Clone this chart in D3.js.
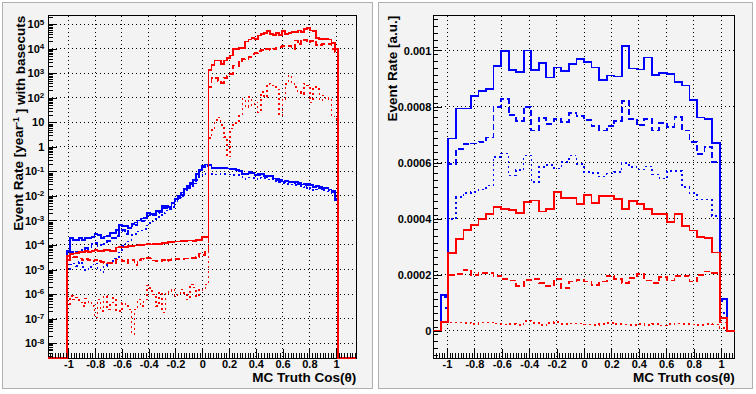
<!DOCTYPE html>
<html>
<head>
<meta charset="utf-8">
<script src="https://cdn.jsdelivr.net/npm/d3@7"></script>
<style>
  body { margin: 0; background: #ffffff; }
  svg text { font-family: "Liberation Sans", Arial, sans-serif; font-weight: bold; fill: #000; }
</style>
</head>
<body>
<svg id="chart" width="756" height="394"></svg>
<script>
// ---- data: left pad, log10 of rate, 100 bins on [-1.15,1.15], non-empty bins 6..93
const leftBlueSolid = [-4.24,-3.72,-3.79,-3.79,-3.72,-3.78,-3.72,-3.72,-3.67,-3.54,-3.60,-3.70,-3.65,-3.62,-3.52,-3.50,-3.40,-3.20,-3.22,-3.22,-3.33,-3.15,-3.08,-3.00,-2.92,-2.90,-2.70,-2.72,-2.72,-2.62,-2.60,-2.42,-2.42,-2.44,-2.30,-2.14,-1.98,-1.86,-1.72,-1.60,-1.45,-1.35,-1.10,-0.95,-0.78,-0.72,
  -0.74,-0.86,-0.84,-0.86,-0.85,-0.87,-0.88,-0.90,-0.90,-0.94,-0.97,-1.10,-1.09,-1.02,-1.06,-1.14,-1.11,-1.12,-1.19,-1.18,-1.19,-1.29,-1.32,-1.36,-1.41,-1.39,-1.42,-1.43,-1.43,-1.48,-1.53,-1.51,-1.52,-1.56,-1.62,-1.59,-1.65,-1.68,-1.69,-1.74,-1.80,-2.14];
const leftBlueDashed = [-4.45,-4.30,-4.35,-4.28,-4.20,-4.30,-4.12,-4.15,-3.95,-3.92,-4.05,-3.98,-3.97,-3.85,-3.72,-3.70,-3.62,-3.42,-3.40,-3.55,-3.30,-3.22,-3.18,-3.05,-3.02,-3.00,-2.80,-2.78,-2.80,-2.70,-2.65,-2.50,-2.48,-2.55,-2.38,-2.22,-2.05,-1.95,-1.80,-1.66,-1.50,-1.40,-1.18,-1.00,-0.84,-0.78,
  -0.76,-0.88,-0.86,-0.87,-0.87,-0.88,-0.90,-0.91,-0.92,-0.96,-0.99,-1.10,-1.12,-1.05,-1.08,-1.16,-1.14,-1.15,-1.21,-1.22,-1.20,-1.31,-1.34,-1.39,-1.43,-1.41,-1.45,-1.44,-1.46,-1.50,-1.55,-1.55,-1.54,-1.59,-1.64,-1.62,-1.68,-1.72,-1.70,-1.77,-1.83,-2.16];
const leftBlueDotted = [-5.00,-4.80,-4.75,-4.85,-4.70,-4.90,-5.05,-4.90,-4.80,-4.75,-4.95,-5.10,-4.85,-4.75,-4.65,-4.55,-4.50,-4.30,-4.05,-3.85,-3.80,-3.60,-3.55,-3.45,-3.40,-3.35,-3.20,-3.10,-3.05,-2.95,-2.85,-2.70,-2.60,-2.50,-2.45,-2.25,-2.10,-2.00,-1.85,-1.70,-1.62,-1.50,-1.35,-1.22,-1.10,-1.02,
  -1.05,-1.10,-1.12,-1.10,-1.12,-1.11,-1.12,-1.13,-1.14,-1.15,-1.17,-1.22,-1.30,-1.25,-1.26,-1.30,-1.24,-1.28,-1.27,-1.32,-1.30,-1.42,-1.45,-1.46,-1.50,-1.52,-1.50,-1.53,-1.55,-1.58,-1.62,-1.70,-1.64,-1.72,-1.78,-1.74,-1.70,-1.76,-1.82,-1.86,-1.95,-2.16];
const leftRedSolid = [-4.45,-4.38,-4.35,-4.32,-4.30,-4.28,-4.26,-4.27,-4.24,-4.22,-4.23,-4.24,-4.22,-4.22,-4.24,-4.24,-4.10,-4.08,-4.10,-4.09,-4.05,-4.03,-4.02,-4.00,-4.00,-3.98,-3.97,-3.98,-3.96,-3.97,-3.95,-3.93,-3.92,-3.89,-3.88,-3.86,-3.86,-3.84,-3.84,-3.82,-3.82,-3.83,-3.80,-3.80,-3.66,-3.66,
  3.12,3.35,3.52,3.52,3.39,3.52,3.62,3.73,4.00,4.00,4.03,4.03,4.30,4.38,4.44,4.41,4.54,4.61,4.65,4.71,4.61,4.57,4.65,4.57,4.71,4.61,4.65,4.68,4.68,4.75,4.68,4.82,4.84,4.75,4.71,4.44,4.41,4.41,4.41,4.38,4.24,4.00];
const leftRedDashed = [-4.60,-4.48,-4.50,-4.50,-4.55,-4.62,-4.58,-4.62,-4.66,-4.60,-4.66,-4.68,-4.72,-4.73,-4.73,-4.74,-4.59,-4.60,-4.66,-4.72,-4.59,-4.60,-4.82,-4.60,-4.55,-4.56,-4.53,-4.55,-4.63,-4.64,-4.66,-4.62,-4.67,-4.60,-4.58,-4.58,-4.57,-4.56,-4.55,-4.55,-4.53,-4.54,-4.50,-4.35,-4.40,-4.22,
  2.44,2.80,2.82,2.70,2.62,2.82,2.90,2.98,3.32,3.30,3.45,3.59,3.60,3.65,3.78,3.82,3.90,3.95,4.00,3.98,3.96,3.98,4.05,4.07,4.12,4.12,4.10,4.00,4.34,4.18,4.38,4.36,4.26,4.32,4.34,4.14,4.16,4.20,4.20,4.20,4.00,3.86];
const leftRedDotted = [-6.50,-6.08,-6.22,-6.15,-6.35,-6.49,-6.19,-6.35,-6.49,-6.96,-6.22,-6.69,-6.08,-6.62,-6.35,-6.15,-6.69,-6.69,-6.35,-6.49,-6.62,-7.64,-6.62,-6.22,-6.49,-6.22,-5.65,-5.88,-6.01,-6.49,-5.95,-6.76,-5.95,-5.88,-5.81,-6.08,-5.95,-5.81,-5.95,-6.22,-5.61,-5.74,-6.10,-5.81,-5.85,-5.61,
  0.36,0.68,1.10,1.20,0.90,0.40,-0.40,0.75,0.90,1.00,1.28,1.95,1.62,2.03,1.69,1.82,1.41,2.23,2.03,2.57,2.50,2.44,2.35,1.28,1.96,2.57,2.91,2.64,2.44,2.23,2.16,2.57,2.50,1.82,2.44,2.37,1.90,2.10,1.96,2.00,1.28,1.14];

// ---- data: right pad, 40 bins on [-1.1,1.1]
const rightBlueSolid = [0,0.000127,0.000686,0.000793,0.000793,0.000838,0.000855,0.000864,0.000945,0.000998,0.000929,0.000923,0.001,0.000929,0.000954,0.000904,0.000939,0.000927,0.000951,0.000971,0.000958,0.000939,0.000894,0.000911,0.000907,0.001015,0.000936,0.000932,0.000975,0.000914,0.000919,0.000915,0.000888,0.000875,0.000823,0.000761,0.000756,0.000671,0.000113,0];
const rightBlueDashed = [0,0.000122,0.000596,0.00065,0.000666,0.000668,0.000674,0.00069,0.000799,0.000827,0.000769,0.000749,0.000799,0.000715,0.00076,0.000739,0.000755,0.000745,0.000777,0.000766,0.000751,0.00073,0.000715,0.00073,0.000748,0.000819,0.000757,0.000733,0.000757,0.000715,0.000742,0.000727,0.000763,0.000715,0.000674,0.000632,0.000656,0.000602,0.000108,0];
const rightBlueDotted = [0,0.000082,0.0004,0.000477,0.000492,0.000495,0.000504,0.000519,0.00062,0.000632,0.000555,0.000573,0.000626,0.000531,0.000585,0.000591,0.000579,0.000602,0.000626,0.000596,0.000567,0.000563,0.000551,0.000561,0.000567,0.000599,0.000585,0.000575,0.000587,0.000558,0.000543,0.00057,0.00057,0.000513,0.000492,0.000468,0.000468,0.00041,0.000064,0];
const rightRedSolid = [0,0.000033,0.000277,0.000327,0.000361,0.000379,0.000399,0.000417,0.000442,0.000436,0.00043,0.00042,0.00046,0.000465,0.000426,0.000434,0.000495,0.000474,0.000474,0.000452,0.000484,0.000456,0.000482,0.000482,0.00047,0.000436,0.000462,0.000454,0.000434,0.000418,0.000418,0.000388,0.000417,0.000375,0.000358,0.000334,0.00033,0.00028,0.000046,0];
const rightRedDashed = [0,0.000033,0.0002,0.000204,0.000218,0.0002,0.000206,0.000208,0.000197,0.000185,0.00018,0.000161,0.000182,0.000185,0.00017,0.00016,0.000185,0.000152,0.000176,0.000182,0.000176,0.000164,0.000176,0.000197,0.000185,0.000172,0.000188,0.000203,0.00018,0.000172,0.000192,0.00018,0.000197,0.000197,0.000176,0.0002,0.000212,0.000208,0.00003,0];
const rightRedDotted = [0,0.00003,0.00003,0.00003,0.000029,0.000025,0.00003,0.000031,0.000026,0.000023,0.000024,0.000022,0.000036,0.000028,0.000021,0.000029,0.000032,0.000025,0.000027,0.000026,0.000023,0.000022,0.000024,0.000029,0.000025,0.000023,0.000022,0.000025,0.000021,0.000025,0.00002,0.000024,0.000026,0.000024,0.000023,0.000022,0.000024,0.000023,0.00001,0];

const xTickValues = [-1,-0.8,-0.6,-0.4,-0.2,0,0.2,0.4,0.6,0.8,1];
const xTickLabels = ["-1","-0.8","-0.6","-0.4","-0.2","0","0.2","0.4","0.6","0.8","1"];
const leftDecades = [-8,-7,-6,-5,-4,-3,-2,-1,0,1,2,3,4,5];
const rightYTicks = [0,0.0002,0.0004,0.0006,0.0008,0.001];
const rightYLabels = ["0","0.0002","0.0004","0.0006","0.0008","0.001"];

const svg = d3.select("#chart");

// pads
function pad(x0, x1) {
  svg.append("rect").attr("x", x0).attr("y", 2.5).attr("width", x1 - x0).attr("height", 386)
    .attr("fill", "#f3f3f3").attr("stroke", "#b0b0b0").attr("stroke-width", 1);
}
pad(2.5, 372.5);
pad(378.5, 752.5);

const styles = [
  { color: "#0000ff", dash: null, width: 1.8 },
  { color: "#0000ff", dash: "6,3", width: 1.8 },
  { color: "#0000ff", dash: "2,3", width: 1.5 },
  { color: "#ff0000", dash: null, width: 1.8 },
  { color: "#ff0000", dash: "6,3", width: 1.8 },
  { color: "#ff0000", dash: "2,3", width: 1.5 }
];

// snap to pixel centres so the thin lines stay crisp
const px = v => Math.round(v - 0.5) + 0.5;

function panel(cfg) {
  const { x, y, yZero, lo, w, series, id } = cfg;
  const [fx0, fx1] = x.range();
  const [fy1, fy0] = y.range();
  const g = svg.append("g");

  g.append("rect").attr("x", fx0).attr("y", fy0).attr("width", fx1 - fx0).attr("height", fy1 - fy0)
    .attr("fill", "#f3f3f3");

  // grid
  g.append("g").selectAll("line").data(xTickValues).join("line")
    .attr("x1", d => px(x(d))).attr("x2", d => px(x(d))).attr("y1", fy0).attr("y2", fy1)
    .attr("stroke", "#000").attr("stroke-width", 1).attr("stroke-dasharray", "1,3")
    .attr("shape-rendering", "crispEdges");
  g.append("g").selectAll("line").data(cfg.yGrid).join("line")
    .attr("x1", fx0).attr("x2", fx1).attr("y1", d => px(y(d))).attr("y2", d => px(y(d)))
    .attr("stroke", "#000").attr("stroke-width", 1).attr("stroke-dasharray", "1,3")
    .attr("shape-rendering", "crispEdges");

  // frame
  g.append("rect").attr("x", px(fx0)).attr("y", px(fy0)).attr("width", px(fx1) - px(fx0)).attr("height", px(fy1) - px(fy0))
    .attr("fill", "none").attr("stroke", "#000").attr("stroke-width", 1).attr("shape-rendering", "crispEdges");

  svg.append("clipPath").attr("id", id).append("rect")
    .attr("x", fx0 - 1).attr("y", fy0 - 1).attr("width", fx1 - fx0 + 2).attr("height", fy1 - fy0 + 2);

  const line = d3.line()
    .x(d => x(d[0]))
    .y(d => d[1] > 0 ? y(d[1]) : yZero)
    .curve(d3.curveStepAfter);

  series.forEach((vals, si) => {
    const pts = vals.map((v, i) => [lo + i * w, v]);
    pts.push([lo + vals.length * w, vals[vals.length - 1]]);
    g.append("path").attr("d", line(pts)).attr("clip-path", `url(#${id})`)
      .attr("fill", "none").attr("stroke", styles[si].color).attr("stroke-width", styles[si].width)
      .attr("stroke-dasharray", styles[si].dash).attr("shape-rendering", "crispEdges");
  });

  // x axis (ticks inside the frame)
  const minorX = d3.range(-1.14, 1.15, 0.02).filter(v => v >= x.domain()[0] && v <= x.domain()[1]);
  g.append("g").attr("transform", `translate(0,${fy1})`)
    .call(d3.axisBottom(x).tickValues(minorX).tickSize(-5).tickFormat(""))
    .call(a => a.select(".domain").remove())
    .selectAll("line").attr("shape-rendering", "crispEdges");
  const xa = g.append("g").attr("transform", `translate(0,${fy1})`)
    .call(d3.axisBottom(x).tickValues(xTickValues).tickSizeInner(-9).tickSizeOuter(0).tickPadding(2)
      .tickFormat((d, i) => xTickLabels[i]));
  xa.select(".domain").remove();
  xa.selectAll("line").attr("shape-rendering", "crispEdges");
  xa.selectAll("text").attr("font-size", 11).attr("font-family", null);

  return g;
}

// ---- left pad
const xL = d3.scaleLinear().domain([-1.15, 1.15]).range([48.3, 356.2]);
const yL = d3.scaleLog().domain([Math.pow(10, -8.62), Math.pow(10, 5.35)]).range([358.3, 15.7]);
const pad6 = new Array(6).fill(0);
const toLin = a => pad6.concat(a.map(v => Math.pow(10, v)), pad6);
const gL = panel({
  id: "clipL", x: xL, y: yL, yZero: 358.3, lo: -1.15, w: 0.023,
  yGrid: leftDecades.map(d => Math.pow(10, d)),
  series: [leftBlueSolid, leftBlueDashed, leftBlueDotted, leftRedSolid, leftRedDashed, leftRedDotted].map(toLin)
});

// log y axis
const minorL = [];
for (let d = -9; d <= 5; d++) for (let m = 2; m <= 9; m++) {
  const v = m * Math.pow(10, d);
  if (v > yL.domain()[0] && v < yL.domain()[1]) minorL.push(v);
}
gL.append("g").attr("transform", "translate(48.3,0)")
  .call(d3.axisLeft(yL).tickValues(minorL).tickSize(-5).tickFormat(""))
  .call(a => a.select(".domain").remove())
  .selectAll("line").attr("shape-rendering", "crispEdges");
const ya = gL.append("g").attr("transform", "translate(48.3,0)")
  .call(d3.axisLeft(yL).tickValues(leftDecades.map(d => Math.pow(10, d))).tickSizeInner(-9).tickSizeOuter(0).tickPadding(4)
    .tickFormat(""));
ya.select(".domain").remove();
ya.selectAll("line").attr("shape-rendering", "crispEdges");
ya.selectAll("text").attr("font-size", 11).attr("font-family", null).each(function(v, i) {
  const e = leftDecades[i];
  const t = d3.select(this);
  if (e === 0) t.text("1");
  else if (e === 1) t.text("10");
  else {
    t.text("10");
    t.append("tspan").attr("dy", "-0.45em").attr("font-size", 8).text(e);
  }
});

svg.append("text").attr("x", 356.2).attr("y", 381.5).attr("text-anchor", "end")
  .attr("font-size", 13.5).text("MC Truth Cos(θ)");
const tl = svg.append("text").attr("transform", "translate(23,15.7) rotate(-90)")
  .attr("text-anchor", "end").attr("font-size", 13.5);
tl.append("tspan").text("Event Rate [year");
tl.append("tspan").attr("dy", "-0.45em").attr("font-size", 9).text("-1");
tl.append("tspan").attr("dy", "0.45em").text(" ] with basecuts");

// ---- right pad
const xR = d3.scaleLinear().domain([-1.1, 1.1]).range([433.3, 734.7]);
const yR = d3.scaleLinear().domain([-0.0000975, 0.001124]).range([358.3, 15.7]);
const gR = panel({
  id: "clipR", x: xR, y: yR, yZero: yR(0), lo: -1.1, w: 0.055,
  yGrid: rightYTicks,
  series: [rightBlueSolid, rightBlueDashed, rightBlueDotted, rightRedSolid, rightRedDashed, rightRedDotted]
});
gR.append("g").attr("transform", "translate(433.3,0)")
  .call(d3.axisLeft(yR).tickValues(d3.range(-0.0000875, 0.00112, 0.000025)).tickSize(-5).tickFormat(""))
  .call(a => a.select(".domain").remove())
  .selectAll("line").attr("shape-rendering", "crispEdges");
const yra = gR.append("g").attr("transform", "translate(433.3,0)")
  .call(d3.axisLeft(yR).tickValues(rightYTicks).tickSizeInner(-9).tickSizeOuter(0).tickPadding(2)
    .tickFormat((d, i) => rightYLabels[i]));
yra.select(".domain").remove();
yra.selectAll("line").attr("shape-rendering", "crispEdges");
yra.selectAll("text").attr("font-size", 11).attr("font-family", null);

svg.append("text").attr("x", 734.7).attr("y", 381.5).attr("text-anchor", "end")
  .attr("font-size", 13.5).text("MC Truth cos(θ)");
svg.append("text").attr("transform", "translate(396.5,15.7) rotate(-90)")
  .attr("text-anchor", "end").attr("font-size", 13.5).text("Event Rate [a.u.]");
</script>
</body>
</html>
